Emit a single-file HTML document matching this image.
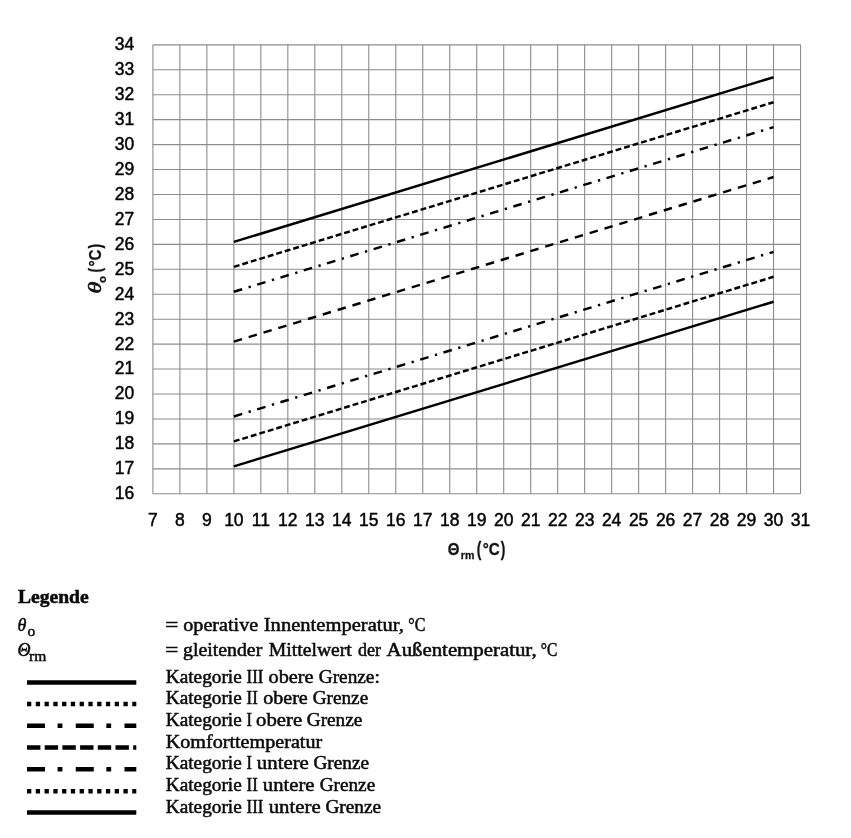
<!DOCTYPE html>
<html lang="de"><head><meta charset="utf-8"><title>Legende</title>
<style>
html,body{margin:0;padding:0;background:#fff;}
body{width:851px;height:838px;overflow:hidden;position:relative;}
svg{position:absolute;left:0;top:0;display:block;filter:blur(0.45px);}
.ax{font-family:"Liberation Sans",sans-serif;font-size:17.5px;fill:#000;stroke:#000;stroke-width:0.45;}
.axt{font-family:"Liberation Sans",sans-serif;font-weight:bold;fill:#111;stroke:#111;stroke-width:0.3;}
.lg{font-family:"Liberation Serif",serif;font-size:18px;fill:#0a0a0a;stroke:#0a0a0a;stroke-width:0.5;}
.grid line{stroke:#8c8c8c;stroke-width:1.1;}
.ser line{stroke:#000;stroke-width:2.45;}
.key line{stroke:#000;stroke-width:4.5;}
</style></head>
<body>
<svg width="851" height="838" viewBox="0 0 851 838">
<rect x="0" y="0" width="851" height="838" fill="#ffffff"/>
<g class="grid">
<line x1="152.90" y1="44.85" x2="152.90" y2="493.77"/>
<line x1="179.88" y1="44.85" x2="179.88" y2="493.77"/>
<line x1="206.87" y1="44.85" x2="206.87" y2="493.77"/>
<line x1="233.86" y1="44.85" x2="233.86" y2="493.77"/>
<line x1="260.84" y1="44.85" x2="260.84" y2="493.77"/>
<line x1="287.83" y1="44.85" x2="287.83" y2="493.77"/>
<line x1="314.81" y1="44.85" x2="314.81" y2="493.77"/>
<line x1="341.79" y1="44.85" x2="341.79" y2="493.77"/>
<line x1="368.78" y1="44.85" x2="368.78" y2="493.77"/>
<line x1="395.76" y1="44.85" x2="395.76" y2="493.77"/>
<line x1="422.75" y1="44.85" x2="422.75" y2="493.77"/>
<line x1="449.74" y1="44.85" x2="449.74" y2="493.77"/>
<line x1="476.72" y1="44.85" x2="476.72" y2="493.77"/>
<line x1="503.71" y1="44.85" x2="503.71" y2="493.77"/>
<line x1="530.69" y1="44.85" x2="530.69" y2="493.77"/>
<line x1="557.67" y1="44.85" x2="557.67" y2="493.77"/>
<line x1="584.66" y1="44.85" x2="584.66" y2="493.77"/>
<line x1="611.64" y1="44.85" x2="611.64" y2="493.77"/>
<line x1="638.63" y1="44.85" x2="638.63" y2="493.77"/>
<line x1="665.62" y1="44.85" x2="665.62" y2="493.77"/>
<line x1="692.60" y1="44.85" x2="692.60" y2="493.77"/>
<line x1="719.58" y1="44.85" x2="719.58" y2="493.77"/>
<line x1="746.57" y1="44.85" x2="746.57" y2="493.77"/>
<line x1="773.55" y1="44.85" x2="773.55" y2="493.77"/>
<line x1="800.54" y1="44.85" x2="800.54" y2="493.77"/>
<line x1="152.90" y1="44.85" x2="800.54" y2="44.85"/>
<line x1="152.90" y1="69.79" x2="800.54" y2="69.79"/>
<line x1="152.90" y1="94.73" x2="800.54" y2="94.73"/>
<line x1="152.90" y1="119.67" x2="800.54" y2="119.67"/>
<line x1="152.90" y1="144.61" x2="800.54" y2="144.61"/>
<line x1="152.90" y1="169.55" x2="800.54" y2="169.55"/>
<line x1="152.90" y1="194.49" x2="800.54" y2="194.49"/>
<line x1="152.90" y1="219.43" x2="800.54" y2="219.43"/>
<line x1="152.90" y1="244.37" x2="800.54" y2="244.37"/>
<line x1="152.90" y1="269.31" x2="800.54" y2="269.31"/>
<line x1="152.90" y1="294.25" x2="800.54" y2="294.25"/>
<line x1="152.90" y1="319.19" x2="800.54" y2="319.19"/>
<line x1="152.90" y1="344.13" x2="800.54" y2="344.13"/>
<line x1="152.90" y1="369.07" x2="800.54" y2="369.07"/>
<line x1="152.90" y1="394.01" x2="800.54" y2="394.01"/>
<line x1="152.90" y1="418.95" x2="800.54" y2="418.95"/>
<line x1="152.90" y1="443.89" x2="800.54" y2="443.89"/>
<line x1="152.90" y1="468.83" x2="800.54" y2="468.83"/>
<line x1="152.90" y1="493.77" x2="800.54" y2="493.77"/>
</g>
<g class="ax" text-anchor="end">
<text x="134.3" y="50.25">34</text>
<text x="134.3" y="75.19">33</text>
<text x="134.3" y="100.13">32</text>
<text x="134.3" y="125.07">31</text>
<text x="134.3" y="150.01">30</text>
<text x="134.3" y="174.95">29</text>
<text x="134.3" y="199.89">28</text>
<text x="134.3" y="224.83">27</text>
<text x="134.3" y="249.77">26</text>
<text x="134.3" y="274.71">25</text>
<text x="134.3" y="299.65">24</text>
<text x="134.3" y="324.59">23</text>
<text x="134.3" y="349.53">22</text>
<text x="134.3" y="374.47">21</text>
<text x="134.3" y="399.41">20</text>
<text x="134.3" y="424.35">19</text>
<text x="134.3" y="449.29">18</text>
<text x="134.3" y="474.23">17</text>
<text x="134.3" y="499.17">16</text>
</g>
<g class="ax" text-anchor="middle">
<text x="152.90" y="526">7</text>
<text x="179.88" y="526">8</text>
<text x="206.87" y="526">9</text>
<text x="233.86" y="526">10</text>
<text x="260.84" y="526">11</text>
<text x="287.83" y="526">12</text>
<text x="314.81" y="526">13</text>
<text x="341.79" y="526">14</text>
<text x="368.78" y="526">15</text>
<text x="395.76" y="526">16</text>
<text x="422.75" y="526">17</text>
<text x="449.74" y="526">18</text>
<text x="476.72" y="526">19</text>
<text x="503.71" y="526">20</text>
<text x="530.69" y="526">21</text>
<text x="557.67" y="526">22</text>
<text x="584.66" y="526">23</text>
<text x="611.64" y="526">24</text>
<text x="638.63" y="526">25</text>
<text x="665.62" y="526">26</text>
<text x="692.60" y="526">27</text>
<text x="719.58" y="526">28</text>
<text x="746.57" y="526">29</text>
<text x="773.55" y="526">30</text>
<text x="800.54" y="526">31</text>
</g>
<g class="ser">
<line x1="233.86" y1="241.88" x2="773.55" y2="77.27"/>
<line x1="233.86" y1="266.82" x2="773.55" y2="102.21" stroke-dasharray="5.9 2.97"/>
<line x1="233.86" y1="291.76" x2="773.55" y2="127.15" stroke-dasharray="8.7 6.7 2.3 6.65"/>
<line x1="233.86" y1="341.64" x2="773.55" y2="177.03" stroke-dasharray="8.5 7"/>
<line x1="233.86" y1="416.46" x2="773.55" y2="251.85" stroke-dasharray="8.7 6.7 2.3 6.65"/>
<line x1="233.86" y1="441.40" x2="773.55" y2="276.79" stroke-dasharray="5.9 2.97"/>
<line x1="233.86" y1="466.34" x2="773.55" y2="301.73"/>
</g>
<g class="axt">
<text transform="translate(447.70,555.00) scale(0.8841,1)" font-size="17">Θ</text>
<text transform="translate(460.80,559.40) scale(0.9848,1)" font-size="10.8">rm</text>
<text transform="translate(476.70,555.70) scale(0.7077,1)" font-size="19.5">(</text>
<text transform="translate(482.70,555.00) scale(0.8910,1)" font-size="17">°C</text>
<text transform="translate(500.70,555.70) scale(0.7077,1)" font-size="19.5">)</text>
</g>
<g class="axt" transform="translate(101.3,0) rotate(-90)">
<text transform="translate(-293.60,0.00) scale(1.2000,0.91)" font-family="Liberation Serif" font-style="italic" font-weight="normal" stroke-width="0.7" font-size="20">θ</text>
<text transform="translate(-283.00,4.40) scale(1.0000,1)" font-size="11.5">o</text>
<text transform="translate(-272.60,-0.40) scale(0.7267,1)" font-size="19">(</text>
<text transform="translate(-266.60,0.00) scale(0.8910,1)" font-size="17">°C</text>
<text transform="translate(-248.60,-0.40) scale(0.7267,1)" font-size="19">)</text>
</g>
<g class="lg">
<text transform="translate(18.00,602.50) scale(1.0885,1)" font-weight="bold">Legende</text>
<text x="17.6" y="630.5"><tspan font-style="italic">θ</tspan><tspan font-size="15.5" dy="5" dx="1">o</tspan></text>
<text x="17.6" y="656.2"><tspan font-style="italic">Θ</tspan><tspan font-size="15.5" dy="5" dx="-1.5">rm</tspan></text>
<g>
<text transform="translate(165.35,630.50) scale(1.2881,1)">=</text>
<text transform="translate(183.23,630.50) scale(1.1202,1)">operative</text>
<text transform="translate(263.78,630.50) scale(1.1426,1)">Innentemperatur,</text>
<text transform="translate(408.37,630.50) scale(0.8901,1)">°C</text>
</g>
<g>
<text transform="translate(165.35,656.20) scale(1.2881,1)">=</text>
<text transform="translate(183.11,656.20) scale(1.1008,1)">gleitender</text>
<text transform="translate(268.82,656.20) scale(1.0930,1)">Mittelwert</text>
<text transform="translate(357.91,656.20) scale(1.0018,1)">der</text>
<text transform="translate(386.60,656.20) scale(1.1572,1)">Außentemperatur,</text>
<text transform="translate(540.69,656.20) scale(0.8620,1)">°C</text>
</g>
<g>
<text transform="translate(165.78,682.50) scale(1.0716,1)">Kategorie</text>
<text transform="translate(246.54,682.50) scale(0.9362,1)">III</text>
<text transform="translate(268.52,682.50) scale(1.1290,1)">obere</text>
<text transform="translate(318.73,682.50) scale(1.0724,1)">Grenze:</text>
</g>
<g>
<text transform="translate(165.78,704.00) scale(1.0716,1)">Kategorie</text>
<text transform="translate(246.54,704.00) scale(0.9378,1)">II</text>
<text transform="translate(263.23,704.00) scale(1.1137,1)">obere</text>
<text transform="translate(312.63,704.00) scale(1.0697,1)">Grenze</text>
</g>
<g>
<text transform="translate(165.78,725.70) scale(1.0716,1)">Kategorie</text>
<text transform="translate(246.56,725.70) scale(0.9026,1)">I</text>
<text transform="translate(256.11,725.70) scale(1.1521,1)">obere</text>
<text transform="translate(306.73,725.70) scale(1.0717,1)">Grenze</text>
</g>
<g>
<text transform="translate(165.76,747.50) scale(1.1186,1)">Komforttemperatur</text>
</g>
<g>
<text transform="translate(165.78,769.40) scale(1.0716,1)">Kategorie</text>
<text transform="translate(246.56,769.40) scale(0.9026,1)">I</text>
<text transform="translate(256.86,769.40) scale(1.1564,1)">untere</text>
<text transform="translate(313.43,769.40) scale(1.0717,1)">Grenze</text>
</g>
<g>
<text transform="translate(165.78,791.40) scale(1.0716,1)">Kategorie</text>
<text transform="translate(246.54,791.40) scale(0.9378,1)">II</text>
<text transform="translate(262.86,791.40) scale(1.1473,1)">untere</text>
<text transform="translate(319.63,791.40) scale(1.0697,1)">Grenze</text>
</g>
<g>
<text transform="translate(165.78,812.70) scale(1.0716,1)">Kategorie</text>
<text transform="translate(246.54,812.70) scale(0.9362,1)">III</text>
<text transform="translate(268.66,812.70) scale(1.1564,1)">untere</text>
<text transform="translate(325.43,812.70) scale(1.0717,1)">Grenze</text>
</g>
</g>
<g class="key">
<line x1="27" y1="682.4" x2="136.3" y2="682.4"/>
<line x1="27" y1="703.95" x2="136.3" y2="703.95" stroke-dasharray="4.3 4.47"/>
<line x1="27" y1="725.75" x2="136.3" y2="725.75" stroke-dasharray="18 12.6 4.8 13.35"/>
<line x1="27" y1="747.4" x2="136.3" y2="747.4" stroke-dasharray="13.4 4.3"/>
<line x1="27" y1="769.25" x2="136.3" y2="769.25" stroke-dasharray="18 12.6 4.8 13.35"/>
<line x1="27" y1="791.15" x2="136.3" y2="791.15" stroke-dasharray="4.3 4.47"/>
<line x1="27" y1="812.55" x2="136.3" y2="812.55"/>
</g>
</svg>
</body></html>
